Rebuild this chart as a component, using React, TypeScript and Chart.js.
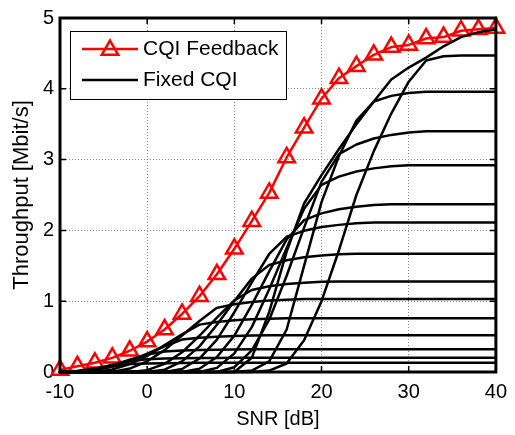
import React, { useEffect, useRef } from "react";
import { Chart, registerables } from "chart.js";

Chart.register(...registerables);

// ---- data ----
const snrDb = [-10, -8, -6, -4, -2, 0, 2, 4, 6, 8, 10, 12, 14, 16, 18, 20, 22, 24, 26, 28, 30, 32, 34, 36, 38, 40];

const cqiFeedback = [0.03, 0.08, 0.13, 0.2, 0.3, 0.43, 0.6, 0.82, 1.07, 1.38, 1.74, 2.13, 2.53, 3.03, 3.45, 3.86, 4.15, 4.32, 4.48, 4.59, 4.62, 4.71, 4.73, 4.82, 4.84, 4.86];

const fixedCqi1 = [0, 0.012, 0.039, 0.078, 0.114, 0.121, 0.125, 0.127, 0.129, 0.13, 0.13, 0.13, 0.13, 0.13, 0.13, 0.13, 0.13, 0.13, 0.13, 0.13, 0.13, 0.13, 0.13, 0.13, 0.13, 0.13];
const fixedCqi2 = [0, 0.014, 0.049, 0.1, 0.152, 0.181, 0.189, 0.194, 0.197, 0.199, 0.2, 0.2, 0.2, 0.2, 0.2, 0.2, 0.2, 0.2, 0.2, 0.2, 0.2, 0.2, 0.2, 0.2, 0.2, 0.2];
const fixedCqi3 = [0, 0.008, 0.038, 0.096, 0.173, 0.246, 0.29, 0.302, 0.31, 0.315, 0.318, 0.32, 0.32, 0.32, 0.32, 0.32, 0.32, 0.32, 0.32, 0.32, 0.32, 0.32, 0.32, 0.32, 0.32, 0.32];
const fixedCqi4 = [0, 0, 0.025, 0.076, 0.156, 0.26, 0.364, 0.458, 0.484, 0.499, 0.51, 0.515, 0.52, 0.52, 0.52, 0.52, 0.52, 0.52, 0.52, 0.52, 0.52, 0.52, 0.52, 0.52, 0.52, 0.52];
const fixedCqi5 = [0, 0, 0, 0.036, 0.112, 0.228, 0.38, 0.532, 0.669, 0.707, 0.73, 0.745, 0.752, 0.76, 0.76, 0.76, 0.76, 0.76, 0.76, 0.76, 0.76, 0.76, 0.76, 0.76, 0.76, 0.76];
const fixedCqi6 = [0, 0, 0, 0, 0.049, 0.151, 0.309, 0.515, 0.721, 0.906, 0.958, 0.989, 1.009, 1.02, 1.03, 1.03, 1.03, 1.03, 1.03, 1.03, 1.03, 1.03, 1.03, 1.03, 1.03, 1.03];
const fixedCqi7 = [0, 0, 0, 0, 0, 0.026, 0.115, 0.278, 0.512, 0.768, 1.011, 1.158, 1.21, 1.242, 1.261, 1.274, 1.28, 1.28, 1.28, 1.28, 1.28, 1.28, 1.28, 1.28, 1.28, 1.28];
const fixedCqi8 = [0, 0, 0, 0, 0, 0, 0.033, 0.15, 0.362, 0.668, 1.002, 1.319, 1.511, 1.578, 1.62, 1.645, 1.662, 1.67, 1.67, 1.67, 1.67, 1.67, 1.67, 1.67, 1.67, 1.67];
const fixedCqi9 = [0, 0, 0, 0, 0, 0, 0, 0.042, 0.19, 0.458, 0.844, 1.266, 1.667, 1.91, 1.994, 2.047, 2.078, 2.1, 2.11, 2.11, 2.11, 2.11, 2.11, 2.11, 2.11, 2.11];
const fixedCqi10 = [0, 0, 0, 0, 0, 0, 0, 0, 0.047, 0.213, 0.514, 0.948, 1.422, 1.872, 2.145, 2.24, 2.299, 2.334, 2.358, 2.37, 2.37, 2.37, 2.37, 2.37, 2.37, 2.37];
const fixedCqi11 = [0, 0, 0, 0, 0, 0, 0, 0, 0, 0.058, 0.263, 0.634, 1.168, 1.752, 2.307, 2.643, 2.759, 2.832, 2.876, 2.905, 2.92, 2.92, 2.92, 2.92, 2.92, 2.92];
const fixedCqi12 = [0, 0, 0, 0, 0, 0, 0, 0, 0, 0, 0.068, 0.306, 0.738, 1.36, 2.04, 2.686, 3.077, 3.213, 3.298, 3.349, 3.383, 3.4, 3.4, 3.4, 3.4, 3.4];
const fixedCqi13 = [0, 0, 0, 0, 0, 0, 0, 0, 0, 0, 0, 0.02, 0.15, 0.6, 1.5, 2.4, 3.05, 3.55, 3.82, 3.9, 3.94, 3.96, 3.96, 3.96, 3.96, 3.96];
const fixedCqi14 = [0, 0, 0, 0, 0, 0, 0, 0, 0, 0, 0, 0, 0.02, 0.12, 0.45, 1.0, 1.72, 2.5, 3.12, 3.65, 4.1, 4.4, 4.46, 4.47, 4.47, 4.47];
const fixedCqi15 = [0, 0, 0, 0, 0, 0, 0, 0, 0, 0, 0, 0.2, 0.85, 1.7, 2.38, 2.78, 3.15, 3.5, 3.82, 4.13, 4.3, 4.44, 4.6, 4.73, 4.8, 4.84];

const fixedCqiSeries = [
  fixedCqi1, fixedCqi2, fixedCqi3, fixedCqi4, fixedCqi5, fixedCqi6, fixedCqi7, fixedCqi8,
  fixedCqi9, fixedCqi10, fixedCqi11, fixedCqi12, fixedCqi13, fixedCqi14, fixedCqi15,
];

const xTickValues = [-10, 0, 10, 20, 30, 40];
const yTickValues = [0, 1, 2, 3, 4, 5];

const legendLabels = ["CQI Feedback", "Fixed CQI"];
const xTitle = "SNR [dB]";
const yTitle = "Throughput [Mbit/s]";

const FONT = "'Liberation Sans', Arial, Helvetica, sans-serif";
const RED = "#ff0000";

function drawTriangle(ctx: CanvasRenderingContext2D, x: number, y: number, r: number) {
  ctx.beginPath();
  let rad = 0;
  ctx.moveTo(x + Math.sin(rad) * r, y - Math.cos(rad) * r);
  rad += (2 * Math.PI) / 3;
  ctx.lineTo(x + Math.sin(rad) * r, y - Math.cos(rad) * r);
  rad += (2 * Math.PI) / 3;
  ctx.lineTo(x + Math.sin(rad) * r, y - Math.cos(rad) * r);
  ctx.closePath();
  ctx.stroke();
}

const framePlugin = {
  id: "matlabFrame",
  afterDatasetsDraw(chart: any) {
    const { ctx, chartArea: a, scales } = chart;
    ctx.save();
    // inward tick marks
    ctx.strokeStyle = "#000";
    ctx.lineWidth = 1.5;
    const tl = 6;
    ctx.beginPath();
    for (const v of xTickValues) {
      const x = scales.x.getPixelForValue(v);
      ctx.moveTo(x, a.bottom);
      ctx.lineTo(x, a.bottom - tl);
      ctx.moveTo(x, a.top);
      ctx.lineTo(x, a.top + tl);
    }
    for (const v of yTickValues) {
      const y = scales.y.getPixelForValue(v);
      ctx.moveTo(a.left, y);
      ctx.lineTo(a.left + tl, y);
      ctx.moveTo(a.right, y);
      ctx.lineTo(a.right - tl, y);
    }
    ctx.stroke();
    // box
    ctx.lineWidth = 3;
    ctx.strokeRect(a.left, a.top, a.right - a.left, a.bottom - a.top);

    // legend
    const bx = a.left + 10;
    const by = a.top + 13;
    const bw = 216;
    const bh = 68;
    ctx.fillStyle = "#fff";
    ctx.fillRect(bx, by, bw, bh);
    ctx.lineWidth = 1;
    ctx.strokeStyle = "#000";
    ctx.strokeRect(bx + 0.5, by + 0.5, bw, bh);
    const rows = [by + 18, by + 49];
    // row 1
    ctx.strokeStyle = RED;
    ctx.lineWidth = 2.5;
    ctx.beginPath();
    ctx.moveTo(bx + 12, rows[0]);
    ctx.lineTo(bx + 68, rows[0]);
    ctx.stroke();
    drawTriangle(ctx, bx + 40, rows[0] + 1, 9.5);
    // row 2
    ctx.strokeStyle = "#000";
    ctx.beginPath();
    ctx.moveTo(bx + 12, rows[1]);
    ctx.lineTo(bx + 68, rows[1]);
    ctx.stroke();
    ctx.fillStyle = "#000";
    ctx.font = `21px ${FONT}`;
    ctx.textBaseline = "middle";
    ctx.textAlign = "left";
    ctx.fillText(legendLabels[0], bx + 73, rows[0]);
    ctx.fillText(legendLabels[1], bx + 73, rows[1]);
    ctx.restore();
  },
};

export default function App() {
  const canvasRef = useRef<HTMLCanvasElement | null>(null);

  useEffect(() => {
    const canvas = canvasRef.current;
    if (!canvas) return;

    const toPoints = (ys: number[]) => snrDb.map((x, i) => ({ x, y: ys[i] }));

    const datasets: any[] = [
      {
        label: legendLabels[0],
        data: toPoints(cqiFeedback),
        borderColor: RED,
        borderWidth: 2.5,
        pointStyle: "triangle",
        pointRadius: 9.5,
        pointBorderColor: RED,
        pointBackgroundColor: "rgba(0,0,0,0)",
        pointBorderWidth: 2.5,
        order: 1,
        clip: false,
      },
      ...fixedCqiSeries.map((s, i) => ({
        label: i === 0 ? legendLabels[1] : `Fixed CQI ${i + 1}`,
        data: toPoints(s),
        borderColor: "#000",
        borderWidth: 2.5,
        pointRadius: 0,
        order: 0,
        clip: false,
      })),
    ];

    const tickFont = { family: FONT, size: 20 };

    const chart = new Chart(canvas, {
      type: "line",
      data: { datasets },
      options: {
        animation: false,
        responsive: false,
        events: [],
        layout: { padding: { top: 16, right: 12, left: 0, bottom: 0 } },
        plugins: { legend: { display: false }, tooltip: { enabled: false } },
        elements: { line: { tension: 0, borderCapStyle: "round", borderJoinStyle: "round" } },
        scales: {
          x: {
            type: "linear",
            min: xTickValues[0],
            max: xTickValues[xTickValues.length - 1],
            afterBuildTicks: (s: any) => {
              s.ticks = xTickValues.map((v) => ({ value: v }));
            },
            afterFit: (s: any) => {
              s.height = 63;
            },
            grid: { color: "#8c8c8c", lineWidth: 1, drawTicks: false },
            border: { display: false, dash: [1, 2] },
            ticks: { font: tickFont, color: "#000", padding: 8, maxRotation: 0, autoSkip: false },
            title: {
              display: true,
              text: xTitle,
              color: "#000",
              font: tickFont,
              padding: { top: 0, bottom: 4 },
            },
          },
          y: {
            type: "linear",
            min: yTickValues[0],
            max: yTickValues[yTickValues.length - 1],
            afterBuildTicks: (s: any) => {
              s.ticks = yTickValues.map((v) => ({ value: v }));
            },
            afterFit: (s: any) => {
              s.width = 60;
            },
            grid: { color: "#8c8c8c", lineWidth: 1, drawTicks: false },
            border: { display: false, dash: [1, 2] },
            ticks: { font: tickFont, color: "#000", padding: 6, autoSkip: false },
            title: {
              display: true,
              text: yTitle,
              color: "#000",
              font: { family: FONT, size: 22 },
              padding: { top: 9, bottom: 0 },
            },
          },
        },
      } as any,
      plugins: [framePlugin],
    });

    return () => chart.destroy();
  }, []);

  return (
    <div style={{ position: "fixed", left: 0, top: 0, width: 515, height: 435, background: "#fff" }}>
      <canvas ref={canvasRef} width={515} height={435} style={{ display: "block" }} />
    </div>
  );
}
